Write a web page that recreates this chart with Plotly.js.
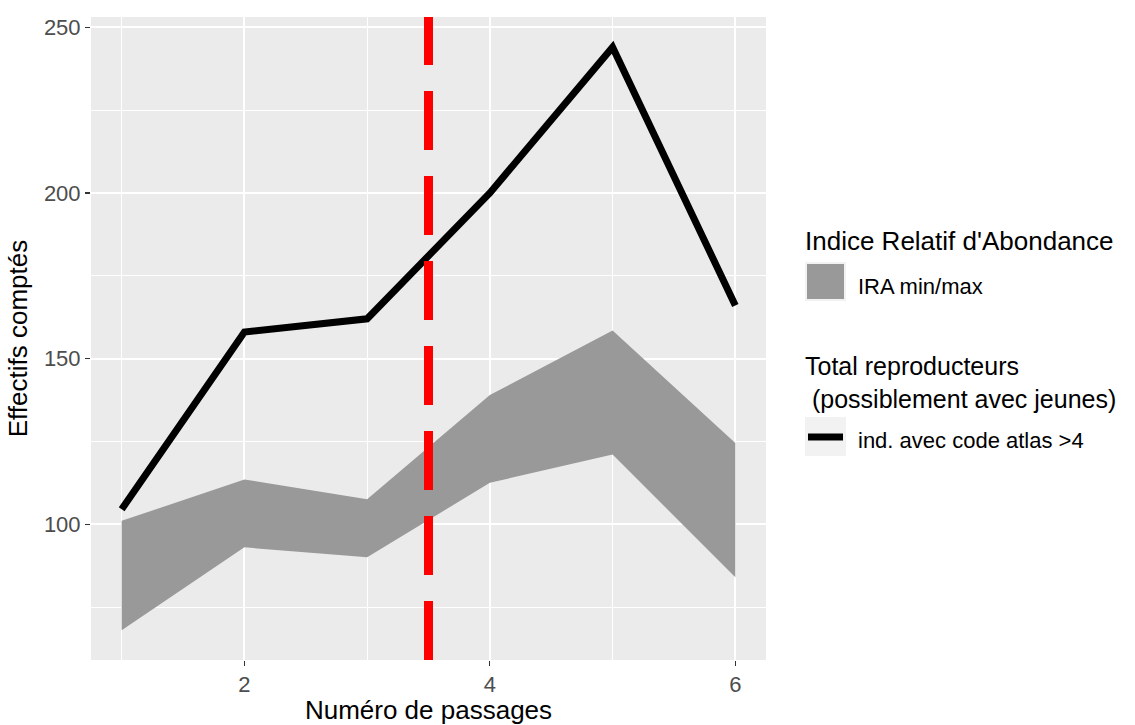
<!DOCTYPE html>
<html>
<head>
<meta charset="utf-8">
<script src="https://cdn.plot.ly/plotly-3.0.1.min.js"></script>
<style>html,body{margin:0;padding:0;background:#fff;}#chart{width:1135px;height:725px;}</style>
</head>
<body>
<div id="chart"></div>
<script>
// Data
const passages = [1, 2, 3, 4, 5, 6];
const totalRepro = [104.5, 158, 162, 200, 244, 166];
const iraMin = [68, 93, 90, 112.5, 121, 84];
const iraMax = [101, 113.5, 107.5, 139, 158.5, 124.5];
const seuilPassage = 3.5;

const nameIRA = "IRA min/max";
const nameTotal = "ind. avec code atlas >4";
const titleLegend1 = "Indice Relatif d'Abondance";
const titleLegend2 = "Total reproducteurs<br>\u00A0(possiblement avec jeunes)";

const FONT = "Liberation Sans, Arial, sans-serif";
const W = 1135, H = 725;
const M = {l: 91, r: 369, t: 17, b: 65};
const PW = W - M.l - M.r, PH = H - M.t - M.b;
// pixel -> paper helpers (for legend layout only)
const px = v => (v - M.l) / PW;
const py = v => (H - M.b - v) / PH;

const traces = [
  {
    x: passages, y: iraMin, type: "scatter", mode: "lines",
    line: {width: 0, color: "#999999"}, showlegend: false, hoverinfo: "skip"
  },
  {
    x: passages, y: iraMax, type: "scatter", mode: "lines",
    fill: "tonexty", fillcolor: "#999999",
    line: {width: 0, color: "#999999"}, name: nameIRA, showlegend: false
  },
  {
    x: passages, y: totalRepro, type: "scatter", mode: "lines",
    line: {width: 7, color: "#000000"}, name: nameTotal, showlegend: false
  }
];

const legendShapes = [
  {type: "rect", xref: "paper", yref: "paper", x0: px(805), x1: px(846), y0: py(262), y1: py(301),
   fillcolor: "#F2F2F2", line: {width: 0}},
  {type: "rect", xref: "paper", yref: "paper", x0: px(807), x1: px(844), y0: py(264), y1: py(299),
   fillcolor: "#999999", line: {width: 0}},
  {type: "rect", xref: "paper", yref: "paper", x0: px(805), x1: px(846), y0: py(417), y1: py(456),
   fillcolor: "#F2F2F2", line: {width: 0}},
  {type: "line", xref: "paper", yref: "paper", x0: px(808), x1: px(843), y0: py(437), y1: py(437),
   line: {color: "#000000", width: 7}}
];

const legendAnnots = [
  {text: titleLegend1, x: px(803), y: py(241), size: 26},
  {text: nameIRA, x: px(856), y: py(286), size: 22},
  {text: titleLegend2, x: px(803), y: py(382), size: 25},
  {text: nameTotal, x: px(856), y: py(440), size: 22}
].map(a => ({
  text: a.text, xref: "paper", yref: "paper", x: a.x, y: a.y,
  xanchor: "left", yanchor: "middle", align: "left", showarrow: false,
  font: {family: FONT, size: a.size, color: "#000000"}
}));

const layout = {
  width: W, height: H,
  margin: M,
  paper_bgcolor: "#ffffff",
  plot_bgcolor: "#EBEBEB",
  font: {family: FONT, color: "#000000"},
  showlegend: false,
  xaxis: {
    range: [0.75, 6.25],
    tickmode: "array", tickvals: [2, 4, 6], ticktext: ["2", "4", "6"],
    ticks: "outside", ticklen: 5, tickwidth: 1.2, tickcolor: "#333333",
    tickfont: {family: FONT, size: 22, color: "#4D4D4D"},
    showgrid: true, gridcolor: "#ffffff", gridwidth: 2,
    minor: {tickvals: [1, 3, 5], showgrid: true, gridcolor: "#ffffff", gridwidth: 1, ticks: ""},
    zeroline: false, showline: false,
    title: {text: "Numéro de passages", font: {family: FONT, size: 26, color: "#000000"}, standoff: 4}
  },
  yaxis: {
    range: [59, 253.1],
    tickmode: "array", tickvals: [100, 150, 200, 250], ticktext: ["100", "150", "200", "250"],
    ticks: "outside", ticklen: 5, tickwidth: 1.2, tickcolor: "#333333",
    tickfont: {family: FONT, size: 22, color: "#4D4D4D"},
    showgrid: true, gridcolor: "#ffffff", gridwidth: 2,
    minor: {tickvals: [75, 125, 175, 225], showgrid: true, gridcolor: "#ffffff", gridwidth: 1, ticks: ""},
    zeroline: false, showline: false,
    title: {text: "Effectifs comptés", font: {family: FONT, size: 26, color: "#000000"}, standoff: 8}
  },
  shapes: [
    {
      type: "line", xref: "x", yref: "paper",
      x0: seuilPassage, x1: seuilPassage, y0: 0, y1: 1,
      line: {color: "#FF0000", width: 9, dash: "59px,26px"}
    }
  ].concat(legendShapes),
  annotations: legendAnnots
};

Plotly.newPlot("chart", traces, layout, {displayModeBar: false, staticPlot: true});
</script>
</body>
</html>
